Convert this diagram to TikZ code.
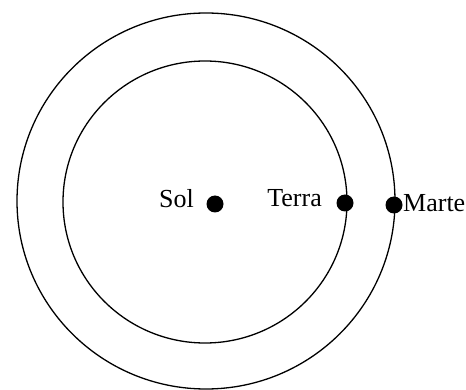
\documentclass[tikz,border=0pt]{standalone}
\usepackage{fontspec}
\setmainfont{Liberation Serif}
\usetikzlibrary{positioning}

\begin{document}
\begin{tikzpicture}[x=1pt,y=-1pt,
  orbit/.style={line width=1.3pt},
  planet/.style={circle,fill=black,inner sep=0pt,minimum size=17pt},
  planetname/.style={font=\fontsize{26}{31}\selectfont,inner sep=0pt}]
\useasboundingbox (0,0) rectangle (466,390);

% orbits
\draw[orbit] (206,201) ellipse (189 and 188);
\draw[orbit] (205,202) ellipse (142 and 141);

% bodies
\node[planet] (sol) at (215,204) {};
\node[planet] (terra) at (345,203) {};
\node[planet] (marte) at (394,205) {};

% labels
\node[planetname,anchor=base east] (solname) at (194,208) {Sol};
\node[planetname,anchor=base east] (terraname) at (322,207) {Terra};
\node[planetname,anchor=base west] (martename) at (403,212) {Marte};
\end{tikzpicture}
\end{document}
